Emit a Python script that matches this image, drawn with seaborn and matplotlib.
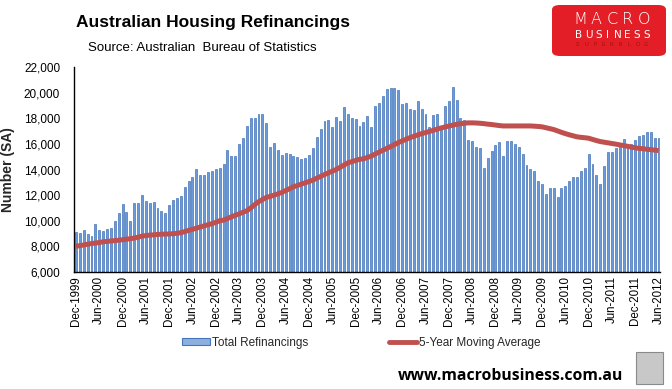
import numpy as np
import pandas as pd
import matplotlib
matplotlib.use("Agg")
import matplotlib.pyplot as plt
from matplotlib.patches import FancyBboxPatch, Rectangle
from matplotlib.lines import Line2D
from matplotlib.patches import Patch
import seaborn as sns

# ---------------- data ----------------
months = pd.date_range("1999-12-01", "2012-06-01", freq="MS").strftime("%b-%Y").tolist()

refinancings = [
    9117, 9013, 9273, 8961, 8805, 9740, 9273, 9169, 9351, 9429,
    9974, 10597, 11299, 10675, 9974, 11377, 11377, 12000, 11532, 11377,
    11455, 10987, 10753, 10597, 11221, 11610, 11792, 11922, 12623, 13091,
    13403, 14026, 13558, 13558, 13766, 13870, 14026, 14104, 14416, 15506,
    15039, 15039, 15974, 16442, 17377, 18000, 18000, 18312, 18312, 17610,
    15740, 16052, 15506, 15117, 15273, 15195, 15039, 14961, 14805, 14883,
    15117, 15662, 16519, 17143, 17766, 17844, 17299, 18078, 17766, 18857,
    18312, 18000, 17922, 17377, 17688, 18156, 17299, 18935, 19169, 19714,
    20260, 20338, 20338, 20182, 19091, 19169, 18701, 18623, 19325, 18701,
    18312, 17299, 18234, 18312, 17200, 18935, 19325, 20416, 19403, 18000,
    17844, 16286, 16208, 15740, 15662, 14104, 14883, 15429, 15896, 16130,
    15039, 16208, 16208, 15974, 15740, 15195, 14338, 14026, 13870, 13091,
    12857, 12078, 12545, 12545, 11844, 12545, 12701, 13091, 13403, 13403,
    13870, 14104, 15195, 14416, 13558, 12857, 14260, 15351, 15351, 15662,
    15818, 16364, 15974, 15974, 16286, 16597, 16675, 16909, 16909, 16442, 16442,
]

moving_avg = [
    8000, 8060, 8110, 8170, 8220, 8260, 8300, 8360, 8390, 8420,
    8450, 8480, 8520, 8560, 8600, 8650, 8720, 8800, 8840, 8880,
    8900, 8930, 8950, 8960, 8970, 8990, 9020, 9070, 9150, 9250,
    9330, 9420, 9510, 9600, 9690, 9770, 9880, 10000, 10050, 10170,
    10300, 10420, 10540, 10660, 10780, 11000, 11250, 11480, 11650, 11820,
    11900, 12000, 12100, 12210, 12360, 12500, 12650, 12750, 12860, 12960,
    13060, 13170, 13320, 13460, 13610, 13740, 13870, 14000, 14170, 14340,
    14520, 14610, 14700, 14800, 14830, 14940, 15040, 15200, 15350, 15500,
    15640, 15790, 15940, 16100, 16230, 16360, 16490, 16590, 16700, 16800,
    16880, 16970, 17060, 17150, 17240, 17320, 17390, 17460, 17530, 17570,
    17610, 17640, 17640, 17630, 17610, 17580, 17540, 17510, 17470, 17430,
    17400, 17400, 17400, 17400, 17400, 17400, 17400, 17400, 17380, 17360,
    17330, 17260, 17190, 17120, 17010, 16900, 16800, 16710, 16630, 16550,
    16510, 16480, 16440, 16350, 16260, 16180, 16130, 16080, 16030, 15980,
    15920, 15870, 15810, 15750, 15690, 15650, 15620, 15580, 15550, 15510, 15480,
]

tick_labels = [
    "Dec-1999", "Jun-2000", "Dec-2000", "Jun-2001", "Dec-2001", "Jun-2002",
    "Dec-2002", "Jun-2003", "Dec-2003", "Jun-2004", "Dec-2004", "Jun-2005",
    "Dec-2005", "Jun-2006", "Dec-2006", "Jun-2007", "Dec-2007", "Jun-2008",
    "Dec-2008", "Jun-2009", "Dec-2009", "Jun-2010", "Dec-2010", "Jun-2011",
    "Dec-2011", "Jun-2012",
]
y_ticks = [6000, 8000, 10000, 12000, 14000, 16000, 18000, 20000, 22000]

df = pd.DataFrame({"month": months, "refi": refinancings, "ma": moving_avg})
df["pos"] = np.arange(len(df))

# ---------------- style ----------------
sns.set_theme(style="white")
plt.rcParams["font.family"] = ["Liberation Sans", "DejaVu Sans"]

BAR_FACE = "#6A9AD8"
BAR_EDGE = "#4677BC"
LINE_RED = "#C0504D"

fig = plt.figure(figsize=(6.72, 3.89), dpi=100)
ax = fig.add_axes([74 / 672, 1 - 272 / 389, (660.5 - 74) / 672, (272 - 67) / 389])

sns.barplot(data=df, x="pos", y="refi", ax=ax, color=BAR_FACE, width=0.5,
            edgecolor=BAR_EDGE, linewidth=0.5, saturation=1, native_scale=True)
sns.lineplot(data=df, x="pos", y="ma", ax=ax, color=LINE_RED, linewidth=3.6,
             solid_capstyle="butt", legend=False)

ax.set_xlim(-0.5, len(df) - 0.5)
ax.set_ylim(6000, 22000)
ax.set_yticks(y_ticks)
ax.set_yticklabels([f"{v:,}" for v in y_ticks], fontsize=8.5, color="black")
ax.tick_params(axis="y", length=0, pad=10)

pos_ticks = [df.index[df["month"] == m][0] for m in tick_labels]
ax.set_xticks(pos_ticks)
ax.set_xticklabels(tick_labels, rotation=90, fontsize=8.3, color="black")
ax.tick_params(axis="x", length=0, pad=3)
ax.set_xlabel("")
ax.set_ylabel("Number (SA)", fontsize=10, fontweight="bold", labelpad=6)

for side in ["top", "right"]:
    ax.spines[side].set_visible(False)
ax.spines["left"].set_color("black")
ax.spines["left"].set_linewidth(1.0)
ax.spines["bottom"].set_color("black")
ax.spines["bottom"].set_linewidth(1.0)

# ---------------- titles ----------------
fig.text(76 / 672, 1 - 22 / 389, "Australian Housing Refinancings", fontsize=12.5,
         fontweight="bold", ha="left", va="center", color="black")
fig.text(88 / 672, 1 - 48 / 389, "Source: Australian  Bureau of Statistics", fontsize=9.5,
         ha="left", va="center", color="black")

# ---------------- legend ----------------
leg_y = 1 - 343 / 389
fig.legend([Patch(facecolor="#8DB0E0", edgecolor=BAR_EDGE, linewidth=0.8)],
           ["Total Refinancings"], loc="center left",
           bbox_to_anchor=(182 / 672, leg_y), frameon=False, fontsize=8.5,
           handlelength=2.4, handleheight=0.55, handletextpad=0.1, borderpad=0,
           borderaxespad=0)
fig.legend([Line2D([0], [0], color=LINE_RED, linewidth=3.5)],
           ["5-Year Moving Average"], loc="center left",
           bbox_to_anchor=(389 / 672, leg_y), frameon=False, fontsize=8.5,
           handlelength=2.4, handletextpad=0.1, borderpad=0, borderaxespad=0)

# ---------------- logo ----------------
logo = FancyBboxPatch((552 / 672, 1 - 56 / 389), 114 / 672, 51 / 389,
                      boxstyle="round,pad=0,rounding_size=0.012",
                      transform=fig.transFigure, facecolor="#E41E26",
                      edgecolor="none", zorder=5)
fig.patches.append(logo)
for i, ch in enumerate("MACRO"):
    fig.text((580 + i * 16) / 672, 1 - 20 / 389, ch, fontsize=11.5, color="white",
             ha="center", va="center", zorder=6, fontfamily="DejaVu Sans",
             fontweight="light")
for i, ch in enumerate("BUSINESS"):
    fig.text((579 + i * 9.6) / 672, 1 - 35 / 389, ch, fontsize=7.5, color="white",
             ha="center", va="center", zorder=6, fontfamily="DejaVu Sans")
for i, ch in enumerate("SUPERBLOG"):
    fig.text((578 + i * 8.5) / 672, 1 - 44.5 / 389, ch, fontsize=3.8, color="#A01010",
             ha="center", va="center", zorder=6)

# ---------------- footer ----------------
fig.text(398 / 672, 1 - 376 / 389, "www.macrobusiness.com.au", fontsize=11.3,
         fontweight="bold", ha="left", va="center", color="black",
         fontfamily=["Open Sans", "DejaVu Sans"])
icon = Rectangle((636 / 672, 1 - 384 / 389), 27 / 672, 32 / 389, transform=fig.transFigure,
                 facecolor="#C8C8C8", edgecolor="#8A8A8A", linewidth=0.8)
fig.patches.append(icon)

fig.savefig("out.png", dpi=100, facecolor="white")
